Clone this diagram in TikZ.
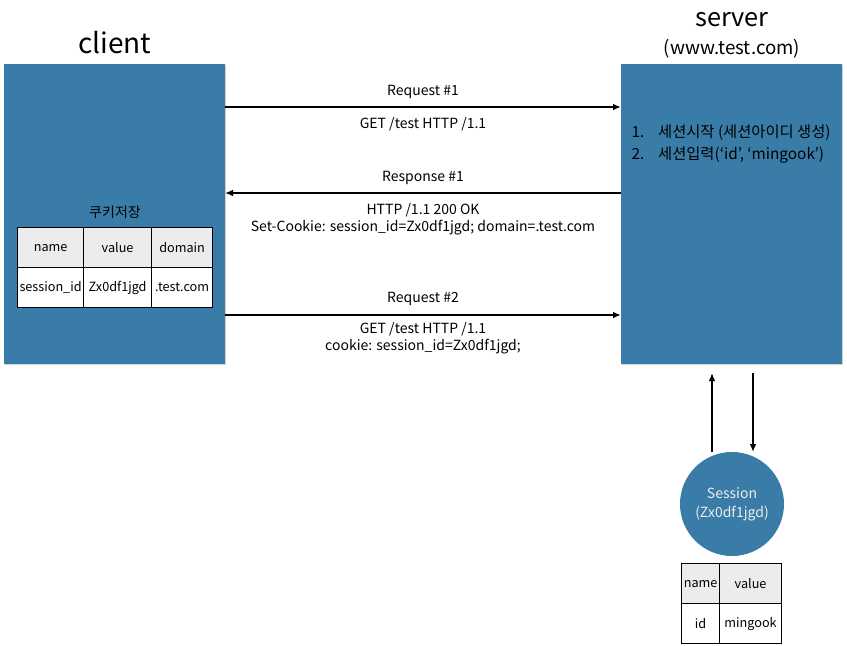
\documentclass[tikz,border=0pt]{standalone}
\usepackage{fontspec}
\setmainfont{Noto Sans CJK KR}
\usetikzlibrary{shadows}
\definecolor{boxblue}{HTML}{3A7CA8}
\definecolor{hdrgray}{HTML}{ECECEC}
\tikzset{
  x=0.75pt, y=-0.75pt,
  panel/.style={fill=boxblue, draw=none, minimum width=221*0.75pt, minimum height=300*0.75pt, anchor=north west, inner sep=0pt, drop shadow={shadow xshift=0.6pt, shadow yshift=-0.9pt, opacity=0.35}},
  lbl/.style={font=\fontsize{10.5}{13}\selectfont, align=center, inner sep=1pt},
  cell/.style={draw=black, line width=0.9pt, inner sep=0pt, font=\fontsize{9.5}{12}\selectfont, anchor=north west},
  msg/.style={-{Latex[length=6pt,width=5pt]}, line width=1.3pt},
}
\usetikzlibrary{arrows.meta}
\begin{document}
\begin{tikzpicture}
\useasboundingbox (0,0) rectangle (847,646);
% panels
\node[panel] (client) at (4,64) {};
\node[panel] (server) at (621,64) {};
\node[font=\fontsize{21}{24}\selectfont] (ctitle) at (115,43) {client};
\node[font=\fontsize{19}{22}\selectfont] (stitle) at (732,20) {server};
\node[font=\fontsize{14}{17}\selectfont] (surl) at (732,49) {(www.test.com)};
% arrow endpoints
\coordinate (a1s) at (225,107); \coordinate (a1e) at (621,107);
\coordinate (a2s) at (621,193); \coordinate (a2e) at (225,193);
\coordinate (a3s) at (225,315); \coordinate (a3e) at (621,315);
\draw[msg] (a1s) -- (a1e);
\draw[msg] (a2s) -- (a2e);
\draw[msg] (a3s) -- (a3e);
\node[lbl] (l1a) at (423,92) {Request \#1};
\node[lbl] (l1b) at (423,124) {GET /test HTTP /1.1};
\node[lbl] (l2a) at (423,178) {Response \#1};
\node[lbl, align=center] (l2b) at (423,219) {HTTP /1.1 200 OK\\Set-Cookie: session\_id=Zx0df1jgd; domain=.test.com};
\node[lbl] (l3a) at (423,299) {Request \#2};
\node[lbl, align=center] (l3b) at (423,338) {GET /test HTTP /1.1\\cookie: session\_id=Zx0df1jgd;};
% server steps
\node[lbl, align=left, anchor=west, font=\fontsize{11.5}{16.5}\selectfont] (steps) at (630,144) {1.\hspace{0.9em}세션시작 (세션아이디 생성)\\2.\hspace{0.9em}세션입력(‘id’, ‘mingook’)};
% cookie table
\node[lbl] (ctab) at (115,212) {쿠키저장};
\node[cell, fill=hdrgray, minimum width=66*0.75pt, minimum height=40*0.75pt] (c11) at (17,227) {name};
\node[cell, fill=hdrgray, minimum width=68*0.75pt, minimum height=40*0.75pt] (c12) at (83,227) {value};
\node[cell, fill=hdrgray, minimum width=61*0.75pt, minimum height=40*0.75pt] (c13) at (151,227) {domain};
\node[cell, fill=white, minimum width=66*0.75pt, minimum height=40*0.75pt] (c21) at (17,267) {session\_id};
\node[cell, fill=white, minimum width=68*0.75pt, minimum height=40*0.75pt] (c22) at (83,267) {Zx0df1jgd};
\node[cell, fill=white, minimum width=61*0.75pt, minimum height=40*0.75pt] (c23) at (151,267) {.test.com};
% session circle
\node[circle, fill=boxblue, minimum size=104*0.75pt, inner sep=0pt, text=hdrgray, align=center, font=\fontsize{10.5}{14}\selectfont] (sess) at (732,504) {Session\\(Zx0df1jgd)};
\coordinate (up1) at (712,452); \coordinate (up2) at (712,373);
\coordinate (dn1) at (753,373); \coordinate (dn2) at (753,452);
\draw[msg] (up1) -- (up2);
\draw[msg] (dn1) -- (dn2);
% session table
\node[cell, fill=hdrgray, minimum width=38*0.75pt, minimum height=40*0.75pt] (s11) at (681,563) {name};
\node[cell, fill=hdrgray, minimum width=62*0.75pt, minimum height=40*0.75pt] (s12) at (719,563) {value};
\node[cell, fill=white, minimum width=38*0.75pt, minimum height=40*0.75pt] (s21) at (681,603) {id};
\node[cell, fill=white, minimum width=62*0.75pt, minimum height=40*0.75pt] (s22) at (719,603) {mingook};
\end{tikzpicture}
\end{document}
